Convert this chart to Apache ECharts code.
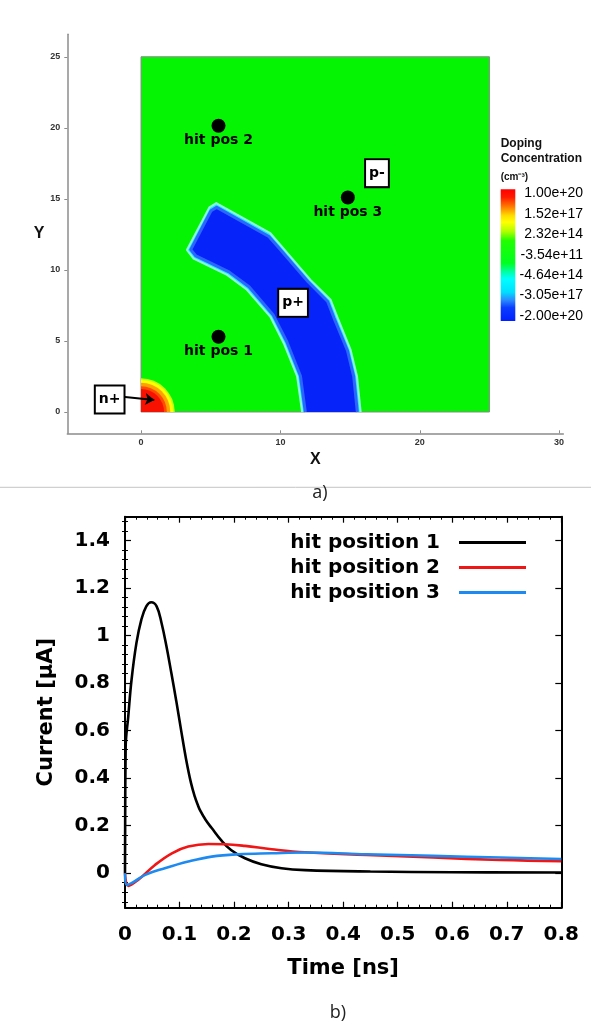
<!DOCTYPE html>
<html><head><meta charset="utf-8">
<script src="https://cdn.jsdelivr.net/npm/echarts@6/dist/echarts.min.js"></script>
<style>html,body{margin:0;padding:0;background:#fff}#c{width:591px;height:1026px}</style>
</head><body><div id="c"></div>
<script>
// ---------- panel a) doping map ----------
const substrateBox = [0, 0, 25, 25];
const nPlusRadii = [2.42, 2.3, 2.1, 1.85, 1.65];
const pPlusOuter = [[11.56,0],[11.2,2.5],[10.24,4.84],[9.28,6.7],[7.6,8.6],[6.17,9.65],[3.77,10.8],[3.29,11.4],[4.9,14.4],[5.4,14.7],[9.28,12.58],[10.0,11.76],[12.16,9.3],[13.6,7.9],[14.08,6.7],[15.04,4.37],[15.5,2.5],[15.76,0]];
const pPlusInner = [[11.79,0],[11.44,2.53],[10.46,4.94],[9.47,6.85],[7.75,8.81],[6.31,9.86],[3.94,10.98],[3.57,11.43],[5.02,14.16],[5.43,14.4],[9.17,12.35],[9.85,11.6],[11.97,9.18],[13.39,7.78],[13.85,6.61],[14.81,4.33],[15.26,2.5],[15.52,0]];
const hitNames = ['hit pos 1', 'hit pos 2', 'hit pos 3'];
const hitX = [5.56, 5.56, 14.84];
const hitY = [5.3, 20.14, 15.09];
const regionNames = ['n+', 'p+', 'p-'];
const regionX = [-2.25, 10.91, 16.93];
const regionY = [0.88, 7.68, 16.81];
const arrowFrom = [-1.32, 1.08];
const arrowTo = [0.95, 0.85];
const mapXTicks = [0, 10, 20, 30];
const mapYTicks = [0, 5, 10, 15, 20, 25];
const dopingTitle = ['Doping', 'Concentration', '(cm\u207B\u00B3)'];
const dopingLabels = ['1.00e+20', '1.52e+17', '2.32e+14', '-3.54e+11', '-4.64e+14', '-3.05e+17', '-2.00e+20'];

// ---------- panel b) transient currents ----------
const seriesNames = ['hit position 1', 'hit position 2', 'hit position 3'];
const time1 = [0, 0.0012, 0.006, 0.012, 0.021, 0.030, 0.039, 0.048, 0.058, 0.067, 0.076, 0.085, 0.094, 0.103, 0.112, 0.121, 0.128, 0.133, 0.138, 0.148, 0.159, 0.177, 0.195, 0.220, 0.250, 0.287, 0.330, 0.45, 0.6, 0.8];
const current1 = [0, 0.53, 0.66, 0.814, 0.969, 1.067, 1.123, 1.14, 1.123, 1.053, 0.955, 0.842, 0.725, 0.60, 0.48, 0.38, 0.322, 0.29, 0.263, 0.224, 0.19, 0.137, 0.097, 0.063, 0.038, 0.021, 0.013, 0.007, 0.004, 0.003];
const time2 = [0, 0.006, 0.024, 0.055, 0.086, 0.116, 0.153, 0.183, 0.220, 0.269, 0.330, 0.443, 0.565, 0.688, 0.8];
const current2 = [0, -0.053, -0.028, 0.035, 0.084, 0.112, 0.123, 0.122, 0.115, 0.101, 0.088, 0.077, 0.066, 0.056, 0.051];
const time3 = [0, 0.003, 0.012, 0.037, 0.073, 0.116, 0.159, 0.208, 0.269, 0.330, 0.443, 0.565, 0.688, 0.8];
const current3 = [0, -0.049, -0.042, -0.007, 0.021, 0.049, 0.07, 0.08, 0.084, 0.087, 0.08, 0.073, 0.066, 0.06];
const timeTicks = { min: 0, max: 0.8, step: 0.1 };
const currentTicks = [0, 0.2, 0.4, 0.6, 0.8, 1, 1.2, 1.4];
const captions = ['a)', 'b)'];

// minor tick positions for the current axis (every 0.04 between the labelled ticks)
const currentMinor = [];
for (let k = -3; k <= 37; k++) { if (k % 5 !== 0) currentMinor.push(+(k * 0.04).toFixed(2)); }

const chart = echarts.init(document.getElementById('c'), null, { renderer: 'canvas' });
const BOLD = 'DejaVu Sans';
const zip = (a, b) => a.map((v, i) => [v, b[i]]);

const ringColors = ['#c4ff10', '#ffff00', '#ffa200', '#ff4a00', '#f81000'];

// colour bar geometry
const cb = { x: 500.7, y: 189.3, w: 14.6, h: 131.7 };
const cbGraphics = [
  { type: 'rect', shape: { x: cb.x, y: cb.y, width: cb.w, height: cb.h },
    style: { fill: new echarts.graphic.LinearGradient(0, 0, 0, 1, [
      { offset: 0, color: '#ff0000' }, { offset: 0.06, color: '#ff1a00' }, { offset: 0.13, color: '#ff7700' },
      { offset: 0.2, color: '#ffdd00' }, { offset: 0.25, color: '#ffff00' }, { offset: 0.32, color: '#b0ff00' },
      { offset: 0.39, color: '#20ff00' }, { offset: 0.56, color: '#00ff20' }, { offset: 0.62, color: '#00ff99' },
      { offset: 0.68, color: '#00ffff' }, { offset: 0.78, color: '#00e0ff' }, { offset: 0.84, color: '#2a8cff' },
      { offset: 0.9, color: '#0a3cff' }, { offset: 1, color: '#0020ff' }]) } }
];
dopingLabels.forEach((t, i) => {
  cbGraphics.push({ type: 'text', style: { text: t, x: 583, y: cb.y + 4 + i * (cb.h - 9) / (dopingLabels.length - 1),
    align: 'right', verticalAlign: 'middle', font: '14px "Liberation Sans"', fill: '#000' } });
});
cbGraphics.push({ type: 'text', style: { text: dopingTitle[0], x: cb.x, y: 143.5, verticalAlign: 'middle', font: 'bold 12px "Liberation Sans"', fill: '#111' } });
cbGraphics.push({ type: 'text', style: { text: dopingTitle[1], x: cb.x, y: 158.3, verticalAlign: 'middle', font: 'bold 12px "Liberation Sans"', fill: '#111' } });
cbGraphics.push({ type: 'text', style: { text: dopingTitle[2], x: cb.x, y: 177, verticalAlign: 'middle', font: 'bold 10px "Liberation Sans"', fill: '#111' } });
// separator and captions
cbGraphics.push({ type: 'line', shape: { x1: 0, y1: 487.3, x2: 591, y2: 487.3 }, style: { stroke: '#c4c4c4', lineWidth: 1 } });
cbGraphics.push({ type: 'text', style: { text: captions[0], x: 320, y: 493, align: 'center', verticalAlign: 'middle', font: '18px "Open Sans"', fill: '#222' } });
cbGraphics.push({ type: 'text', style: { text: captions[1], x: 338, y: 1013, align: 'center', verticalAlign: 'middle', font: '18px "Open Sans"', fill: '#222' } });

const mapAxisCommon = {
  axisLine: { show: true, onZero: false, lineStyle: { color: '#8c8c8c', width: 1.5 } },
  splitLine: { show: false },
  axisLabel: { fontSize: 9, fontWeight: 'bold', fontFamily: 'Liberation Sans', color: '#333' },
  nameTextStyle: { fontSize: 16, fontWeight: 'bold', fontFamily: 'Liberation Sans', color: '#111' }
};

const option = {
  animation: false,
  backgroundColor: '#fff',
  graphic: cbGraphics,
  grid: [
    { left: 67.3, right: 27.7, top: 34.3, bottom: 592.7 },
    { left: 125, right: 29.7, top: 516.7, bottom: 118.3 }
  ],
  legend: {
    data: seriesNames, orient: 'vertical', right: 60, top: 525.5, align: 'right',
    icon: 'rect', itemWidth: 67, itemHeight: 3, itemGap: 1,
    textStyle: { fontFamily: BOLD, fontWeight: 'bold', fontSize: 20, color: '#000', lineHeight: 24, padding: [0, 14, 0, 0] }
  },
  xAxis: [
    Object.assign({}, mapAxisCommon, {
      gridIndex: 0, type: 'value', min: -5.29, max: 30.3, position: 'bottom',
      axisTick: { show: true, inside: true, length: 3, customValues: mapXTicks, lineStyle: { color: '#8c8c8c' } },
      axisLabel: Object.assign({}, mapAxisCommon.axisLabel, { customValues: mapXTicks, margin: 5 }),
      name: 'X', nameLocation: 'middle', nameGap: 18
    }),
    {
      gridIndex: 1, type: 'value', min: timeTicks.min, max: timeTicks.max, interval: timeTicks.step, position: 'bottom',
      axisLine: { onZero: false, lineStyle: { color: '#000', width: 2 } },
      axisTick: { inside: true, length: 6, lineStyle: { color: '#000', width: 1.2 } },
      minorTick: { show: true, splitNumber: 5, length: 3, lineStyle: { color: '#000', width: 1 } },
      splitLine: { show: false }, minorSplitLine: { show: false },
      axisLabel: { fontFamily: BOLD, fontWeight: 'bold', fontSize: 20, color: '#000', margin: 17 },
      name: 'Time [ns]', nameLocation: 'middle', nameGap: 50,
      nameTextStyle: { fontFamily: BOLD, fontWeight: 'bold', fontSize: 21, color: '#000' }
    },
    {
      gridIndex: 1, type: 'value', min: timeTicks.min, max: timeTicks.max, interval: timeTicks.step, position: 'top',
      axisLine: { onZero: false, lineStyle: { color: '#000', width: 2 } },
      axisTick: { inside: true, length: 6, lineStyle: { color: '#000', width: 1.2 } },
      minorTick: { show: true, splitNumber: 5, length: 3, lineStyle: { color: '#000', width: 1 } },
      splitLine: { show: false }, minorSplitLine: { show: false }, axisLabel: { show: false }
    }
  ],
  yAxis: [
    Object.assign({}, mapAxisCommon, {
      gridIndex: 0, type: 'value', min: -1.5, max: 26.58, position: 'left',
      axisTick: { show: true, inside: false, length: 3, customValues: mapYTicks, lineStyle: { color: '#8c8c8c' } },
      axisLabel: Object.assign({}, mapAxisCommon.axisLabel, { customValues: mapYTicks, margin: 7 }),
      name: 'Y', nameLocation: 'middle', nameGap: 20, nameRotate: 0
    }),
    {
      gridIndex: 1, type: 'value', min: -0.145, max: 1.5, position: 'left',
      axisLine: { onZero: false, lineStyle: { color: '#000', width: 2 } },
      axisTick: { inside: true, length: 6, customValues: currentTicks, lineStyle: { color: '#000', width: 1.2 } },
      axisLabel: { customValues: currentTicks, fontFamily: BOLD, fontWeight: 'bold', fontSize: 20, color: '#000', margin: 15 },
      splitLine: { show: false },
      name: 'Current [\u03BCA]', nameLocation: 'middle', nameGap: 68,
      nameTextStyle: { fontFamily: BOLD, fontWeight: 'bold', fontSize: 21, color: '#000' }
    },
    {
      gridIndex: 1, type: 'value', min: -0.145, max: 1.5, position: 'right',
      axisLine: { onZero: false, lineStyle: { color: '#000', width: 2 } },
      axisTick: { inside: true, length: 6, customValues: currentTicks, lineStyle: { color: '#000', width: 1.2 } },
      axisLabel: { show: false }, splitLine: { show: false }
    },
    {
      gridIndex: 1, type: 'value', min: -0.145, max: 1.5, position: 'left',
      axisLine: { show: false },
      axisTick: { inside: true, length: 3, customValues: currentMinor, lineStyle: { color: '#000', width: 1 } },
      axisLabel: { show: false }, splitLine: { show: false }
    },
    {
      gridIndex: 1, type: 'value', min: -0.145, max: 1.5, position: 'right',
      axisLine: { show: false },
      axisTick: { inside: true, length: 3, customValues: currentMinor, lineStyle: { color: '#000', width: 1 } },
      axisLabel: { show: false }, splitLine: { show: false }
    }
  ],
  series: [
    { // substrate (p-) field
      type: 'custom', xAxisIndex: 0, yAxisIndex: 0, z: 1, silent: true,
      data: [substrateBox], encode: { x: [0, 2], y: [1, 3] },
      renderItem: (params, api) => {
        const p0 = api.coord([api.value(0), api.value(1)]);
        const p1 = api.coord([api.value(2), api.value(3)]);
        return { type: 'rect', shape: { x: p0[0], y: p1[1], width: p1[0] - p0[0], height: p0[1] - p1[1] },
          style: { fill: '#04f404', stroke: '#8a8a8a', lineWidth: 1 } };
      }
    },
    { // n+ implant rings
      type: 'custom', xAxisIndex: 0, yAxisIndex: 0, z: 2, silent: true,
      data: nPlusRadii.map(r => [0, 0, r]), encode: { x: 0, y: 1 },
      renderItem: (params, api) => {
        const c = api.coord([api.value(0), api.value(1)]);
        const r = api.size([api.value(2), 0])[0];
        return { type: 'sector', shape: { cx: c[0], cy: c[1], r0: 0, r: r, startAngle: -Math.PI / 2, endAngle: 0, clockwise: true },
          style: { fill: ringColors[params.dataIndex] } };
      }
    },
    { // p+ band contours
      type: 'custom', xAxisIndex: 0, yAxisIndex: 0, z: 2, silent: true,
      data: [[0, 0], [1, 0]], encode: { x: 0, y: 1 },
      renderItem: (params, api) => {
        const contour = params.dataIndex === 0 ? pPlusOuter : pPlusInner;
        const pts = contour.map(p => api.coord(p));
        const outer = params.dataIndex === 0;
        return { type: 'group', children: [
          { type: 'polygon', shape: { points: pts }, style: { fill: outer ? '#1ae6ff' : '#0623fa' } },
          { type: 'polyline', shape: { points: pts }, style: { fill: null, stroke: outer ? '#90f8d8' : '#2a66ff', lineWidth: outer ? 2 : 3, lineJoin: 'round' } }
        ] };
      }
    },
    { // hit positions
      type: 'scatter', xAxisIndex: 0, yAxisIndex: 0, z: 4, symbolSize: 14,
      data: hitX.map((x, i) => [x, hitY[i], hitNames[i]]),
      itemStyle: { color: '#000', opacity: 1 },
      label: { show: true, position: 'bottom', distance: 1, formatter: p => p.data[2],
        fontFamily: BOLD, fontWeight: 'bold', fontSize: 14, color: '#000' }
    },
    { // region labels
      type: 'scatter', xAxisIndex: 0, yAxisIndex: 0, z: 6, symbolSize: 2, itemStyle: { color: 'rgba(0,0,0,0)', opacity: 1 },
      data: regionX.map((x, i) => [x, regionY[i], regionNames[i]]),
      label: { show: true, position: 'inside', formatter: p => p.data[2], opacity: 1,
        fontFamily: BOLD, fontWeight: 'bold', fontSize: 14, color: '#000', lineHeight: 17,
        backgroundColor: '#ffffff', borderColor: '#000', borderWidth: 2, padding: [5, 3, 4, 3] }
    },
    { // n+ pointer arrow
      type: 'lines', coordinateSystem: 'cartesian2d', xAxisIndex: 0, yAxisIndex: 0, z: 5,
      data: [{ coords: [arrowFrom, arrowTo] }],
      symbol: ['none', 'arrow'], symbolSize: 9,
      lineStyle: { color: '#000', width: 2, opacity: 1 }
    },
    {
      name: seriesNames[0], type: 'line', xAxisIndex: 1, yAxisIndex: 1, data: zip(time1, current1),
      showSymbol: false, smooth: 0.4, color: '#000', lineStyle: { width: 2.6 }, z: 3
    },
    {
      name: seriesNames[1], type: 'line', xAxisIndex: 1, yAxisIndex: 1, data: zip(time2, current2),
      showSymbol: false, smooth: 0.4, color: '#f01616', lineStyle: { width: 2.6 }, z: 3
    },
    {
      name: seriesNames[2], type: 'line', xAxisIndex: 1, yAxisIndex: 1, data: zip(time3, current3),
      showSymbol: false, smooth: 0.4, color: '#1c8af0', lineStyle: { width: 2.6 }, z: 3
    }
  ]
};
chart.setOption(option);
</script>
</body></html>
